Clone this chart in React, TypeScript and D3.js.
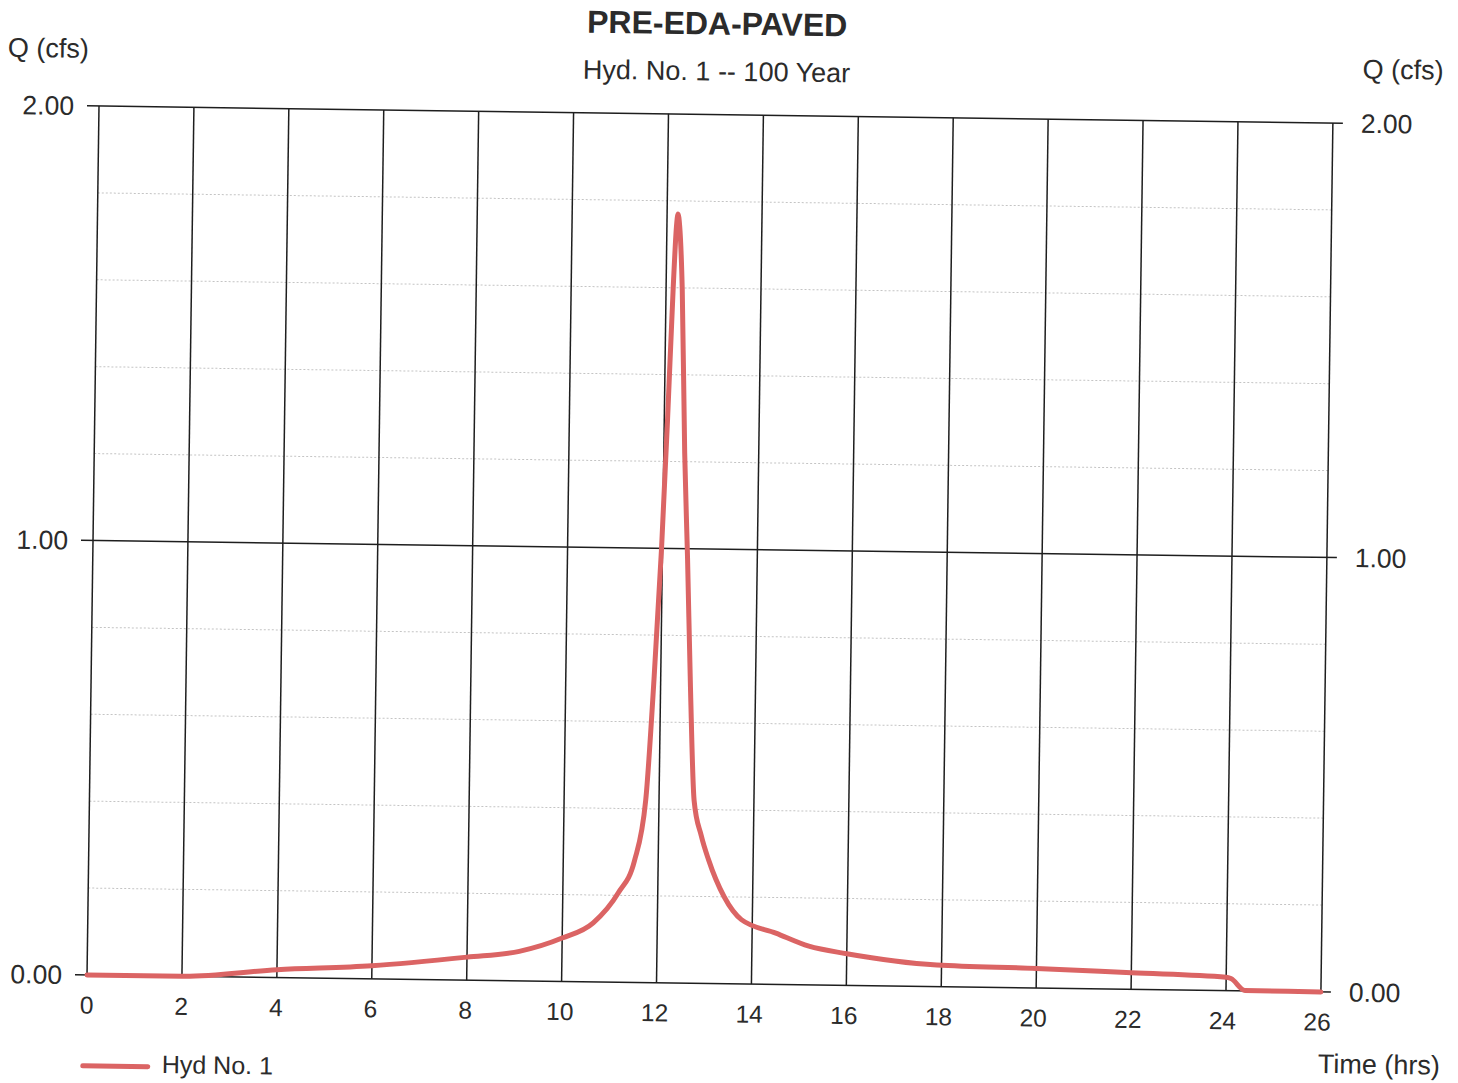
import React from "react";
import * as d3 from "d3";

// Hydrograph ordinates: time (hrs) and discharge Q (cfs)
const hours = [0, 2, 4, 6, 8, 9.1, 10, 10.65, 11.17, 11.5, 11.72, 11.86, 11.98, 12.07, 12.15, 12.2, 12.23, 12.27, 12.34, 12.44, 12.53, 12.63, 12.74, 12.9, 13.06, 13.4, 13.77, 14.5, 15.2, 16, 17.9, 20, 22, 24, 24.1, 24.4, 26];
const flow = [0, 0, 0.018, 0.03, 0.053, 0.068, 0.1, 0.136, 0.206, 0.28, 0.42, 0.7, 1.0, 1.3, 1.6, 1.74, 1.77, 1.74, 1.6, 1.22, 0.98, 0.68, 0.42, 0.34, 0.285, 0.2, 0.148, 0.118, 0.089, 0.073, 0.05, 0.045, 0.038, 0.031, 0.028, 0.001, 0];

const xTicks = [0, 2, 4, 6, 8, 10, 12, 14, 16, 18, 20, 22, 24, 26];
const yMajor = [0, 1, 2];
const yMinor = [0.2, 0.4, 0.6, 0.8, 1.2, 1.4, 1.6, 1.8];

const title = "PRE-EDA-PAVED";
const subtitle = "Hyd. No. 1 -- 100 Year";
const yLabel = "Q (cfs)";
const xLabel = "Time (hrs)";
const seriesName = "Hyd No. 1";

const W = 1458;
const H = 1083;
const plotW = 1234;
const plotH = 869;
const lineColor = "#db6464";
const ink = "#2b2b2b";
const font = "'Liberation Sans', Arial, sans-serif";

export default function App() {
  const x = d3.scaleLinear().domain([0, 26]).range([0, plotW]);
  const y = d3.scaleLinear().domain([0, 2]).range([plotH, 0]);
  const pts = hours.map((h, i) => [h, flow[i]] as [number, number]);
  const line = d3
    .line<[number, number]>()
    .x((d) => x(d[0]))
    .y((d) => y(d[1]))
    .curve(d3.curveMonotoneX);

  return (
    <svg
      width={W}
      height={H}
      style={{ position: "absolute", left: 0, top: 0, background: "#fff" }}
      fontFamily={font}
    >
      <rect width={W} height={H} fill="#fff" />
      <g transform="translate(99,106) rotate(0.79)">
        {/* titles */}
        <text x={plotW / 2} y={-80} textAnchor="middle" fontSize={32} fontWeight="bold" fill={ink}>
          {title}
        </text>
        <text x={plotW / 2} y={-34} textAnchor="middle" fontSize={27} fill={ink}>
          {subtitle}
        </text>
        <text x={-92} y={-48} fontSize={27} fill={ink}>
          {yLabel}
        </text>
        <text x={1263} y={-45} fontSize={27} fill={ink}>
          {yLabel}
        </text>

        {/* minor horizontal grid */}
        {yMinor.map((v) => (
          <line
            key={"mn" + v}
            x1={0}
            x2={plotW}
            y1={y(v)}
            y2={y(v)}
            stroke="#c4c4c4"
            strokeWidth={1}
            strokeDasharray="2 2"
          />
        ))}

        {/* vertical grid */}
        {xTicks.map((t) => (
          <line key={"vx" + t} x1={x(t)} x2={x(t)} y1={0} y2={plotH} stroke="#1e1e1e" strokeWidth={1.5} />
        ))}

        {/* major horizontal grid with ticks on both sides */}
        {yMajor.map((v) => (
          <g key={"mj" + v}>
            <line x1={-12} x2={plotW + 10} y1={y(v)} y2={y(v)} stroke="#1e1e1e" strokeWidth={1.5} />
            <text x={-25} y={y(v)} dy="0.35em" textAnchor="end" fontSize={26.5} fill={ink}>
              {v.toFixed(2)}
            </text>
            <text x={1262} y={y(v)} dy="0.35em" textAnchor="start" fontSize={26.5} fill={ink}>
              {v.toFixed(2)}
            </text>
          </g>
        ))}

        {/* x tick labels */}
        {xTicks.map((t) => (
          <text key={"xl" + t} x={x(t) - t * 0.13} y={plotH + 30} dy="0.35em" textAnchor="middle" fontSize={24.5} fill={ink}>
            {t}
          </text>
        ))}
        <text x={1232} y={950} fontSize={27} fill={ink}>
          {xLabel}
        </text>

        {/* hydrograph */}
        <path
          d={line(pts) || ""}
          fill="none"
          stroke={lineColor}
          strokeWidth={5}
          strokeLinejoin="round"
          strokeLinecap="round"
        />

        {/* legend */}
        <line x1={-3} x2={62} y1={960} y2={960} stroke={lineColor} strokeWidth={5} strokeLinecap="round" />
        <text x={76} y={966} fontSize={25} fill={ink}>
          {seriesName}
        </text>
      </g>
    </svg>
  );
}
